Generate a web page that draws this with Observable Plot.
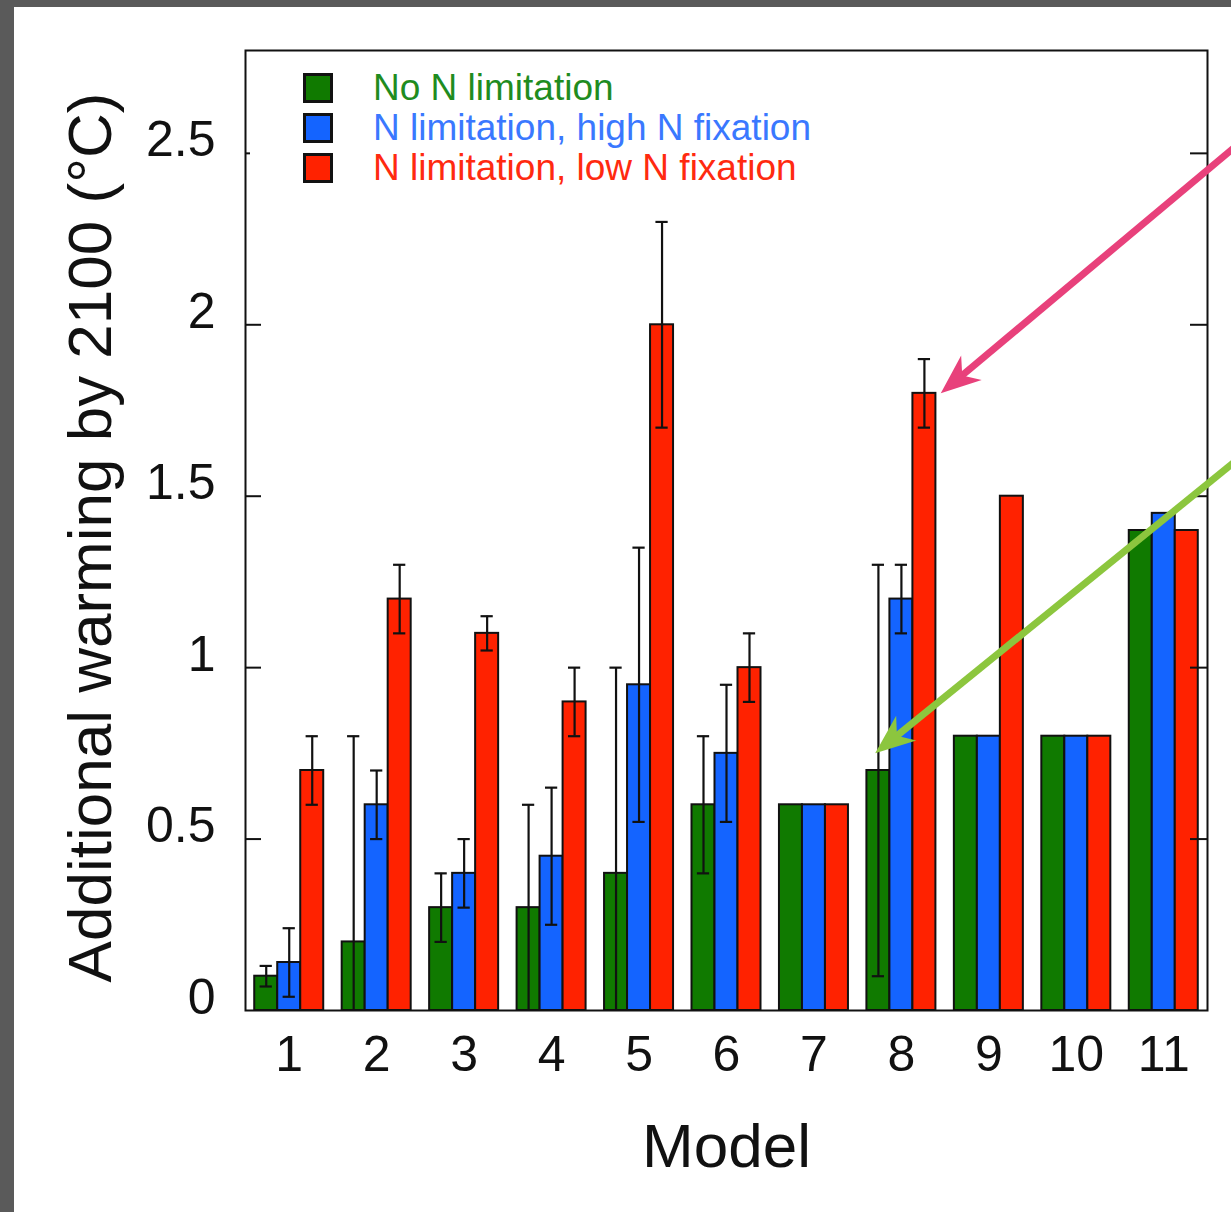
<!DOCTYPE html>
<html>
<head>
<meta charset="utf-8">
<script src="https://cdn.jsdelivr.net/npm/d3@7"></script>
<script src="https://cdn.jsdelivr.net/npm/@observablehq/plot@0.6"></script>
<style>
  html, body { margin: 0; padding: 0; }
  body { width: 1231px; height: 1212px; background: #5a5a5a; position: relative; overflow: hidden;
         font-family: "Liberation Sans", Arial, Helvetica, sans-serif; }
  #panel { position: absolute; left: 14px; top: 7px; right: 0; bottom: 0; background: #ffffff; }
  #chart { position: absolute; left: 0; top: 0; }
  #legend { position: absolute; left: 303px; top: 68px; }
  .row { display: flex; align-items: center; height: 40px; }
  .sw { width: 24px; height: 24px; border: 3px solid #111; margin-right: 40px; }
  .lab { font-size: 37px; line-height: 40px; white-space: nowrap; }
</style>
</head>
<body>
<div id="panel"></div>
<div id="chart"></div>
<div id="legend"></div>
<script>
// ---- data ----
const models = [1, 2, 3, 4, 5, 6, 7, 8, 9, 10, 11];
const series = ["No N limitation", "N limitation, high N fixation", "N limitation, low N fixation"];
const noLimit   = [0.10, 0.20, 0.30, 0.30, 0.40, 0.60, 0.60, 0.70, 0.80, 0.80, 1.40];
const highFix   = [0.14, 0.60, 0.40, 0.45, 0.95, 0.75, 0.60, 1.20, 0.80, 0.80, 1.45];
const lowFix    = [0.70, 1.20, 1.10, 0.90, 2.00, 1.00, 0.60, 1.80, 1.50, 0.80, 1.40];
const noLimitLo = [0.07, 0.00, 0.20, 0.00, 0.00, 0.40, null, 0.10, null, null, null];
const noLimitHi = [0.13, 0.80, 0.40, 0.60, 1.00, 0.80, null, 1.30, null, null, null];
const highFixLo = [0.04, 0.50, 0.30, 0.25, 0.55, 0.55, null, 1.10, null, null, null];
const highFixHi = [0.24, 0.70, 0.50, 0.65, 1.35, 0.95, null, 1.30, null, null, null];
const lowFixLo  = [0.60, 1.10, 1.05, 0.80, 1.70, 0.90, null, 1.70, null, null, null];
const lowFixHi  = [0.80, 1.30, 1.15, 1.00, 2.30, 1.10, null, 1.90, null, null, null];
const yTicks = [0, 0.5, 1, 1.5, 2, 2.5];
const yLabel = "Additional warming by 2100 (°C)";
const xLabel = "Model";
// annotation arrows (tail -> tip, in data units)
const arrowNotes = [
  {x1: 12.10, y1: 2.58, x2: 8.45, y2: 1.80, color: "#e8417b"},
  {x1: 12.10, y1: 1.66, x2: 7.70, y2: 0.75, color: "#8cc63e"}
];

// ---- styling ----
const barColors = ["#107a00", "#1464ff", "#ff2200"];
const textColors = ["#1f8c1f", "#3a78ff", "#ff2a10"];
const offsets = [-0.263, 0, 0.263];
const half = 0.1315;
const capHalf = 0.07;

const values = [noLimit, highFix, lowFix];
const los = [noLimitLo, highFixLo, lowFixLo];
const his = [noLimitHi, highFixHi, lowFixHi];

const rows = models.flatMap((m, i) => series.map((s, j) => ({
  model: m, series: s, j, value: values[j][i], lo: los[j][i], hi: his[j][i]
})));
const errs = rows.filter(d => d.hi != null);
const caps = errs.flatMap(d => [{...d, v: d.hi}, ...(d.lo > 0 ? [{...d, v: d.lo}] : [])]);

// plot geometry (for arrowhead orientation)
const W = 1231, H = 1212, mL = 245, mR = 24, mT = 50, mB = 202;
const xDom = [0.5, 11.5], yDom = [0, 2.8];
const kx = (W - mL - mR) / (xDom[1] - xDom[0]);
const ky = (H - mT - mB) / (yDom[1] - yDom[0]);
const headLen = 40, headHalfW = 16, notch = 28;
const arrowHead = {
  draw(ctx) {
    // tip at origin, pointing up
    ctx.moveTo(0, 0);
    ctx.lineTo(headHalfW, headLen);
    ctx.lineTo(0, notch);
    ctx.lineTo(-headHalfW, headLen);
    ctx.closePath();
  }
};
const notes = arrowNotes.map(a => {
  const dxp = (a.x2 - a.x1) * kx, dyp = -(a.y2 - a.y1) * ky;
  const len = Math.hypot(dxp, dyp);
  const ux = dxp / len, uy = dyp / len;
  // line ends inside the head (at the notch)
  const ex = a.x2 - (ux * (notch - 2)) / kx;
  const ey = a.y2 + (uy * (notch - 2)) / ky;
  return {...a, ex, ey, angle: Math.atan2(ux, -uy) * 180 / Math.PI};
});

const chart = Plot.plot({
  width: W, height: H,
  marginLeft: mL, marginRight: mR, marginTop: mT, marginBottom: mB,
  x: {domain: xDom},
  y: {domain: yDom},
  color: {domain: series, range: barColors},
  style: {background: "transparent", fontFamily: "'Liberation Sans', Arial, Helvetica, sans-serif", color: "#111", overflow: "visible"},
  marks: [
    Plot.rectY(rows, {
      x1: d => d.model + offsets[d.j] - half,
      x2: d => d.model + offsets[d.j] + half,
      y1: 0, y2: "value", fill: "series", stroke: "#111", strokeWidth: 2
    }),
    Plot.ruleX(errs, {x: d => d.model + offsets[d.j], y1: "lo", y2: "hi", stroke: "#111", strokeWidth: 2.2}),
    Plot.ruleY(caps, {y: "v", x1: d => d.model + offsets[d.j] - capHalf, x2: d => d.model + offsets[d.j] + capHalf, stroke: "#111", strokeWidth: 2.2}),
    Plot.frame({stroke: "#111", strokeWidth: 2}),
    // inward ticks
    Plot.axisY([0.5, 1, 1.5, 2], {anchor: "left", tickSize: 16, dx: 16, fill: "none", label: null, strokeWidth: 2}),
    Plot.axisY([2.5], {anchor: "left", tickSize: 5, dx: 5, fill: "none", label: null, strokeWidth: 2}),
    Plot.axisY([0.5, 1, 1.5, 2, 2.5], {anchor: "right", tickSize: 18, dx: -18, fill: "none", label: null, strokeWidth: 2}),
    // tick labels
    Plot.axisY(yTicks, {anchor: "left", tickSize: 0, tickPadding: 30, dy: -13, fontSize: 50, label: null, tickFormat: d => String(d), fill: "#111"}),
    Plot.axisX(models, {anchor: "bottom", tickSize: 0, tickPadding: 25, fontSize: 50, label: null, tickFormat: d => String(d), fill: "#111"}),
    // axis titles
    Plot.text([yLabel], {frameAnchor: "left", rotate: -90, dx: -135, dy: 7, fontSize: 62, textAnchor: "middle", lineAnchor: "bottom", fill: "#111"}),
    Plot.text([xLabel], {frameAnchor: "bottom", dy: 112, fontSize: 62, textAnchor: "middle", lineAnchor: "top", fill: "#111"}),
    // annotation arrows
    Plot.link(notes, {x1: "x1", y1: "y1", x2: "ex", y2: "ey", stroke: "color", strokeWidth: 7}),
    Plot.dot(notes, {x: "x2", y: "y2", symbol: arrowHead, r: 10, fill: "color", stroke: "none", rotate: "angle"})
  ]
});
document.getElementById("chart").appendChild(chart);

// legend
const legend = document.getElementById("legend");
series.forEach((s, j) => {
  const row = document.createElement("div");
  row.className = "row";
  const sw = document.createElement("div");
  sw.className = "sw";
  sw.style.background = barColors[j];
  const lab = document.createElement("span");
  lab.className = "lab";
  lab.style.color = textColors[j];
  lab.textContent = s;
  row.appendChild(sw); row.appendChild(lab);
  legend.appendChild(row);
});
</script>
</body>
</html>
